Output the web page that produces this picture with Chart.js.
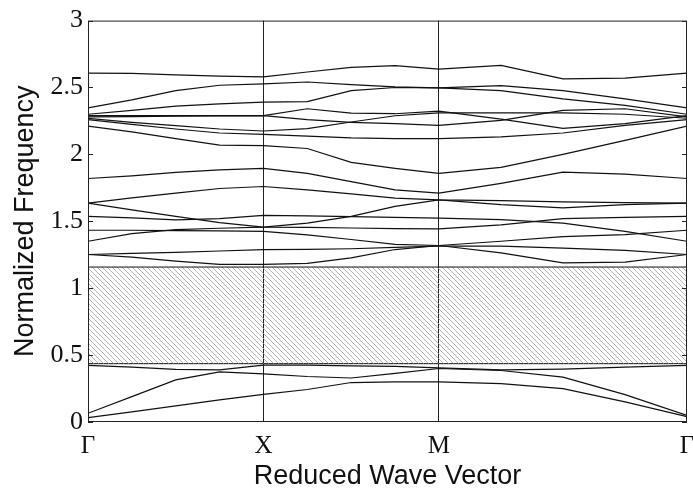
<!DOCTYPE html>
<html>
<head>
<meta charset="utf-8">
<script src="https://cdn.jsdelivr.net/npm/chart.js@4.4.1/dist/chart.umd.min.js"></script>
<style>
  html, body { margin: 0; padding: 0; background: #fff; }
  canvas { display: block; }
</style>
</head>
<body>
<canvas id="bands" width="693" height="488"></canvas>
<script>
// k positions along the path G - X - M - G
const kPath = [0, 0.25, 0.5, 0.75, 1, 1.25, 1.5, 1.75, 2, 2.354, 2.707, 3.061, 3.414];
const symPos = [0, 1, 2, 3.414];
const symLabels = ["\u0393", "X", "M", "\u0393"];
const gapBounds = [0.436, 1.158];   // hatched band gap

// bands
const band01 = [0.032, 0.075, 0.12, 0.165, 0.206, 0.243, 0.295, 0.30, 0.30, 0.287, 0.25, 0.15, 0.04];
const band02 = [0.065, 0.19, 0.315, 0.375, 0.36, 0.34, 0.329, 0.364, 0.40, 0.385, 0.335, 0.205, 0.05];
const band03 = [0.423, 0.41, 0.393, 0.39, 0.425, 0.425, 0.42, 0.415, 0.405, 0.39, 0.395, 0.41, 0.423];
const band04 = [1.252, 1.232, 1.203, 1.178, 1.178, 1.186, 1.227, 1.289, 1.319, 1.264, 1.19, 1.195, 1.252];
const band05 = [1.252, 1.26, 1.268, 1.278, 1.289, 1.29, 1.295, 1.305, 1.315, 1.314, 1.30, 1.282, 1.252];
const band06 = [1.351, 1.408, 1.438, 1.448, 1.457, 1.487, 1.537, 1.611, 1.66, 1.624, 1.60, 1.624, 1.636];
const band07 = [1.433, 1.433, 1.43, 1.428, 1.425, 1.398, 1.364, 1.327, 1.319, 1.351, 1.385, 1.40, 1.433];
const band08 = [1.537, 1.525, 1.51, 1.52, 1.545, 1.54, 1.535, 1.53, 1.524, 1.512, 1.487, 1.425, 1.351];
const band09 = [1.636, 1.585, 1.537, 1.49, 1.457, 1.455, 1.45, 1.446, 1.443, 1.474, 1.52, 1.53, 1.537];
const band10 = [1.636, 1.675, 1.71, 1.745, 1.76, 1.735, 1.705, 1.673, 1.66, 1.655, 1.645, 1.64, 1.636];
const band11 = [1.82, 1.84, 1.865, 1.885, 1.895, 1.858, 1.797, 1.735, 1.71, 1.784, 1.868, 1.853, 1.82];
const band12 = [2.212, 2.168, 2.118, 2.069, 2.065, 2.044, 1.94, 1.896, 1.858, 1.903, 2.0, 2.105, 2.212];
const band13 = [2.26, 2.225, 2.19, 2.16, 2.15, 2.136, 2.123, 2.118, 2.118, 2.131, 2.16, 2.217, 2.26];
const band14 = [2.27, 2.24, 2.215, 2.19, 2.175, 2.193, 2.242, 2.289, 2.31, 2.31, 2.31, 2.30, 2.27];
const band15 = [2.28, 2.283, 2.286, 2.288, 2.29, 2.26, 2.24, 2.23, 2.217, 2.255, 2.329, 2.341, 2.28];
const band16 = [2.29, 2.29, 2.29, 2.29, 2.29, 2.341, 2.309, 2.304, 2.324, 2.264, 2.195, 2.23, 2.29];
const band17 = [2.30, 2.329, 2.361, 2.378, 2.39, 2.395, 2.477, 2.50, 2.497, 2.477, 2.415, 2.366, 2.30];
const band18 = [2.348, 2.408, 2.477, 2.517, 2.527, 2.541, 2.522, 2.504, 2.497, 2.514, 2.477, 2.415, 2.348];
const band19 = [2.608, 2.605, 2.595, 2.585, 2.58, 2.616, 2.65, 2.663, 2.638, 2.665, 2.565, 2.57, 2.608];

const bands = [band01, band02, band03, band04, band05, band06, band07, band08, band09, band10,
               band11, band12, band13, band14, band15, band16, band17, band18, band19];

// diagonal hatch for the gap
function makeHatch() {
    const pc = document.createElement('canvas');
    pc.width = 5; pc.height = 5;
    const c = pc.getContext('2d');
    c.strokeStyle = '#a2a2a2';
    c.lineWidth = 0.8;
    c.beginPath();
    c.moveTo(-1, -1); c.lineTo(6, 6);
    c.moveTo(4, -1); c.lineTo(6, 1);
    c.moveTo(-1, 4); c.lineTo(1, 6);
    c.stroke();
    return c.createPattern(pc, 'repeat');
}

const xMin = symPos[0], xMax = symPos[symPos.length - 1];

let datasets = bands.map(b => ({
    data: b.map((v, i) => ({x: kPath[i], y: v})),
    borderColor: '#111',
    borderWidth: 1.2,
    pointRadius: 0,
    fill: false,
    tension: 0
}));

datasets.push({
    data: [{x: xMin, y: gapBounds[1]}, {x: xMax, y: gapBounds[1]}],
    borderColor: '#111',
    borderWidth: 1,
    pointRadius: 0,
    backgroundColor: makeHatch(),
    fill: {value: gapBounds[0]}
});
datasets.push({
    data: [{x: xMin, y: gapBounds[0]}, {x: xMax, y: gapBounds[0]}],
    borderColor: '#111',
    borderWidth: 1,
    pointRadius: 0,
    fill: false
});

// frame + small inward ticks
const framePlugin = {
    id: 'frame',
    afterDraw(chart) {
        const {ctx, chartArea: a, scales} = chart;
        ctx.save();
        ctx.strokeStyle = '#222';
        ctx.lineWidth = 1;
        ctx.strokeRect(a.left + 0.5, a.top + 0.5, a.right - a.left - 1, a.bottom - a.top - 1);
        ctx.beginPath();
        scales.y.ticks.forEach(t => {
            const y = Math.round(scales.y.getPixelForValue(t.value)) + 0.5;
            ctx.moveTo(a.left, y); ctx.lineTo(a.left + 5, y);
            ctx.moveTo(a.right, y); ctx.lineTo(a.right - 5, y);
        });
        ctx.stroke();
        ctx.restore();
    }
};

new Chart(document.getElementById('bands'), {
    type: 'line',
    data: {datasets: datasets},
    options: {
        responsive: false,
        animation: false,
        devicePixelRatio: 1,
        layout: {padding: {left: 0, right: 6, top: 18, bottom: 0}},
        plugins: {legend: {display: false}, tooltip: {enabled: false}},
        scales: {
            x: {
                type: 'linear',
                min: xMin,
                max: xMax,
                afterBuildTicks: s => { s.ticks = symPos.map(v => ({value: v})); },
                afterFit: s => { s.height = 66; s.paddingLeft = 0; s.paddingRight = 0; },
                ticks: {
                    autoSkip: false,
                    maxRotation: 0,
                    padding: 9,
                    color: '#111',
                    font: {family: '"Liberation Serif", "Times New Roman", serif', size: 25},
                    callback: (v, i) => symLabels[i]
                },
                grid: {
                    drawTicks: false,
                    color: c => (c.index === 1 || c.index === 2) ? '#222' : 'rgba(0,0,0,0)',
                    lineWidth: 1
                },
                border: {display: false},
                title: {
                    display: true,
                    text: 'Reduced Wave Vector',
                    color: '#111',
                    padding: {top: 0, bottom: -5},
                    font: {family: '"Liberation Sans", Arial, sans-serif', size: 27}
                }
            },
            y: {
                min: 0,
                max: 3,
                afterFit: s => { s.width = 88; },
                ticks: {
                    stepSize: 0.5,
                    padding: 5,
                    color: '#111',
                    font: {family: '"Liberation Serif", "Times New Roman", serif', size: 26},
                    callback: v => String(v)
                },
                grid: {display: false, drawTicks: false},
                border: {display: false},
                title: {
                    display: true,
                    text: 'Normalized Frequency',
                    color: '#111',
                    padding: {top: 9, bottom: 0},
                    font: {family: '"Liberation Sans", Arial, sans-serif', size: 27}
                }
            }
        }
    },
    plugins: [framePlugin]
});
</script>
</body>
</html>
